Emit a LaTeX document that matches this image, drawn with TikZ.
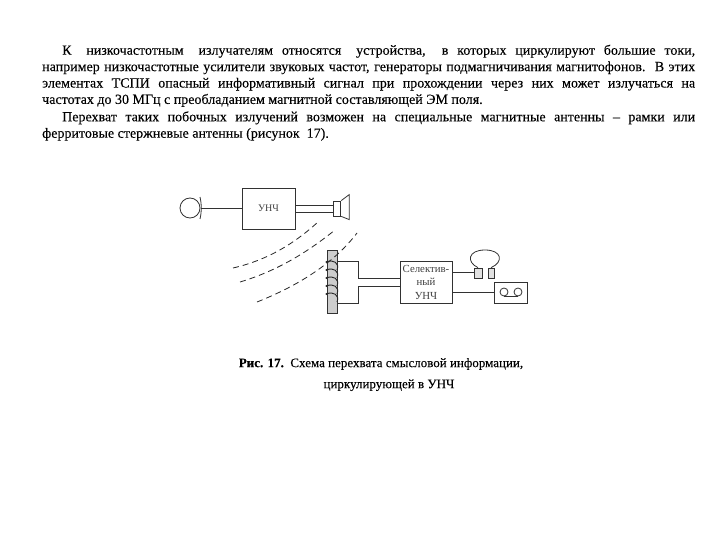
\documentclass[tikz,border=0pt]{standalone}
\usepackage{fontspec}
\setmainfont{Liberation Serif}
\usetikzlibrary{positioning,calc}
\definecolor{WireGray}{RGB}{50,50,50}
\definecolor{RodGray}{RGB}{205,205,205}
\tikzset{
  para/.style={text width=653pt,inner sep=0pt,anchor=north west,align=justify,
               font=\fontsize{14}{16.4}\selectfont\addfontfeature{FakeBold=0.15}},
  capt/.style={inner sep=0pt,font=\fontsize{13}{15}\selectfont\addfontfeature{FakeBold=0.15}},
  blockbox/.style={draw=WireGray,fill=white,inner sep=0pt,align=center,line width=0.8pt,
               text=black!75,font=\fontsize{10}{12.5}\selectfont},
  wire/.style={draw=WireGray,line width=0.8pt},
  wave/.style={draw=black!85,line width=0.8pt,dash pattern=on 6pt off 4pt},
}
\begin{document}
\begin{tikzpicture}[x=1pt,y=-1pt]
\useasboundingbox (0,0) rectangle (720,540);
% text above the figure
\node[para] (par1) at (42,44.5) {\hspace*{20pt}К\hspace{6pt} низкочастотным\hspace{6pt} излучателям относятся\hspace{6pt} устройства,\hspace{6pt} в которых циркулируют большие токи,\linebreak
например низкочастотные усилители звуковых частот, генераторы подмагничивания магнитофонов.\hspace{2pt} В этих\linebreak
элементах ТСПИ опасный информативный сигнал при прохождении через них может излучаться на\linebreak
частотах до 30 МГц с преобладанием магнитной составляющей ЭМ поля.};
\node[para, below=4pt of par1.south west, anchor=north west] (par2) {\hspace*{20pt}Перехват таких побочных излучений возможен на специальные магнитные антенны -- рамки или\linebreak
ферритовые стержневые антенны (рисунок\ \ 17).};

% upper chain
\node[wire,circle,minimum size=20pt,inner sep=0pt] (mic) at (190,208) {};
\coordinate (micbar) at (201,208);
\node[blockbox,minimum width=53pt,minimum height=41pt] (unch) at (268.5,208.5) {УНЧ};
\node[wire,fill=white,minimum width=7pt,minimum height=15pt,inner sep=0pt,right=38pt of unch.east,anchor=west] (spk) {};
\draw[wire] (200,197) to[bend left=12] (200,219);
\draw[wire] (spk.north east) -- ++(8,-6) -- ++(0,25) -- (spk.south east);
\draw[wire] (micbar) -- (unch.west |- micbar);
\draw[wire] (unch.east |- 0,205) -- (spk.west |- 0,205);
\draw[wire] (unch.east |- 0,212) -- (spk.west |- 0,212);

% rod with coil
\node[draw=WireGray,fill=RodGray,line width=0.6pt,minimum width=10pt,minimum height=63pt,inner sep=0pt] (rod) at (332,281.5) {};
\foreach \yy in {262,270,278,286,294}{
  \fill[black!80] (326.5,\yy) circle (1.2pt);
  \draw[draw=black!85,line width=0.9pt] (326.5,\yy) .. controls (333,\yy-3) and (340,\yy+1) .. (337,\yy+8);
}

% waves
\draw[wave] (233,268) .. controls (268,260) and (295,243) .. (318,222);
\draw[wave] (240,282) .. controls (280,270) and (310,250) .. (335,230);
\draw[wave] (257,302) .. controls (300,285) and (335,262) .. (357,233);

% lower chain
\node[blockbox,minimum width=52pt,minimum height=42pt,font=\fontsize{10.8}{13.5}\selectfont] (sel) at (426,282) {Селектив-\\ный\\УНЧ};
\draw[wire] (rod.east |- 0,261) -- (358,261) -- (358,278) -- (sel.west |- 0,278);
\draw[wire] (rod.east |- 0,303) -- (358,303) -- (358,286) -- (sel.west |- 0,286);

% headphones
\node[draw=WireGray,fill=RodGray!60,line width=0.7pt,minimum width=8pt,minimum height=10pt,inner sep=0pt] (earl) at (478,273) {};
\node[draw=WireGray,fill=RodGray!60,line width=0.7pt,minimum width=6pt,minimum height=10pt,inner sep=0pt] (earr) at (491,273) {};
\draw[wire] (earl.north) .. controls (466,262) and (468,250) .. (485,250) .. controls (502,250) and (504,262) .. (earr.north);
\draw[wire] (sel.east |- 0,272) -- (earl.west |- 0,272);

% recorder
\node[blockbox,minimum width=33pt,minimum height=21pt] (rec) at (510.5,292.5) {};
\node[wire,circle,minimum size=8pt,inner sep=0pt] (reel1) at (504,292) {};
\node[wire,circle,minimum size=8pt,inner sep=0pt] (reel2) at (518,292) {};
\draw[wire] (reel1.south) -- (reel2.south);
\draw[wire] (sel.east |- 0,292) -- (rec.west |- 0,292);

% caption
\node[capt] (cap1) at (381,364) {\textbf{Рис. 17.}\ \ Схема перехвата смысловой информации,};
\node[capt,below=9pt of cap1.south,xshift=8pt] (cap2) {циркулирующей в УНЧ};
\end{tikzpicture}
\end{document}
